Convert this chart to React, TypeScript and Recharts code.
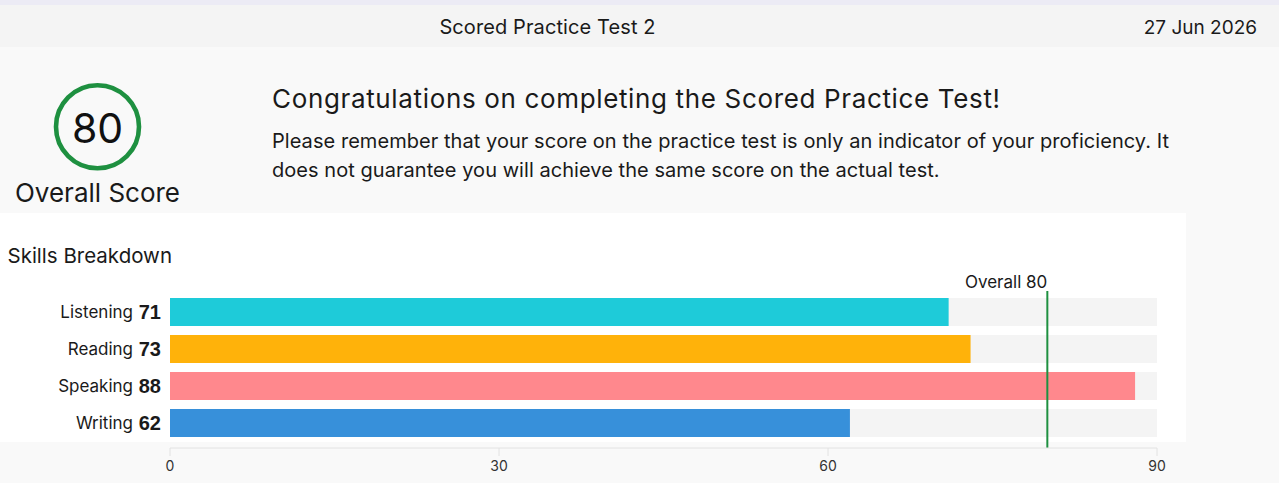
import { BarChart, Bar, XAxis, YAxis, ReferenceLine, Cell } from "recharts";

const skills = ["Listening", "Reading", "Speaking", "Writing"];
const scores = [71, 73, 88, 62];
const barColors = ["#1ecbd9", "#ffb20a", "#ff888d", "#3790da"];
const xTicks = [0, 30, 60, 90];
const overallScore = 80;

const data = skills.map((name, i) => ({ name, score: scores[i] }));

const FONT = "Inter, 'Noto Sans', sans-serif";
const TEXT = "#1a1a1a";

function SkillTick({ y, payload }: any) {
  const idx = skills.indexOf(payload.value);
  return (
    <g>
      <text x={133} y={y + 6.5} textAnchor="end" fontFamily={FONT} fontSize={17} fill={TEXT}>
        {payload.value}
      </text>
      <text
        x={161}
        y={y + 7}
        textAnchor="end"
        fontFamily="'Liberation Sans', Arial, sans-serif"
        fontWeight={700}
        fontSize={20}
        fill={TEXT}
      >
        {scores[idx]}
      </text>
    </g>
  );
}

function OverallLabel({ viewBox }: any) {
  return (
    <text x={viewBox.x} y={viewBox.y - 3.5} textAnchor="end" fontFamily={FONT} fontSize={17} fill={TEXT}>
      Overall {overallScore}
    </text>
  );
}

export default function App() {
  return (
    <div style={{ position: "absolute", left: 0, top: 0, width: 1279, height: 483, background: "#f9f9f9", overflow: "hidden" }}>
      <div style={{ position: "absolute", left: 0, top: 0, width: 1279, height: 5, background: "#ecebf5" }} />
      <div style={{ position: "absolute", left: 0, top: 5, width: 1279, height: 42, background: "#f4f4f4" }} />
      <div style={{ position: "absolute", left: 0, top: 213, width: 1186, height: 229, background: "#ffffff" }} />

      <svg width={1279} height={483} style={{ position: "absolute", left: 0, top: 0 }}>
        <text x={547.5} y={34} textAnchor="middle" fontFamily={FONT} fontSize={20} letterSpacing={0.1} fill={TEXT}>
          Scored Practice Test 2
        </text>
        <text x={1257} y={34} textAnchor="end" fontFamily={FONT} fontSize={19} fill={TEXT}>
          27 Jun 2026
        </text>

        <circle cx={97.5} cy={126.7} r={41.5} fill="none" stroke="#1e9040" strokeWidth={4.6} />
        <text x={97.5} y={143.3} textAnchor="middle" fontFamily={FONT} fontSize={41} fill="#111">
          {overallScore}
        </text>
        <text x={97.5} y={201.7} textAnchor="middle" fontFamily={FONT} fontSize={26} fill={TEXT}>
          Overall Score
        </text>

        <text x={272} y={108.3} fontFamily={FONT} fontSize={26} letterSpacing={0.65} fill={TEXT}>
          Congratulations on completing the Scored Practice Test!
        </text>
        <text x={272} y={148.3} fontFamily={FONT} fontSize={20} letterSpacing={0.05} fill={TEXT}>
          Please remember that your score on the practice test is only an indicator of your proficiency. It
        </text>
        <text x={272} y={176.5} fontFamily={FONT} fontSize={20} letterSpacing={0.05} fill={TEXT}>
          does not guarantee you will achieve the same score on the actual test.
        </text>

        <text x={7.5} y={263.3} fontFamily={FONT} fontSize={20.5} fill={TEXT}>
          Skills Breakdown
        </text>
      </svg>

      <div style={{ position: "absolute", left: 0, top: 213 }}>
        <BarChart
          width={1279}
          height={270}
          data={data}
          layout="vertical"
          margin={{ top: 78, right: 122, bottom: 5, left: 0 }}
        >
          <XAxis
            type="number"
            domain={[0, 90]}
            ticks={xTicks}
            height={30}
            tickSize={8}
            tickMargin={5}
            axisLine={{ stroke: "#e2e2e2" }}
            tickLine={{ stroke: "#e2e2e2" }}
            tick={{ fill: "#333", fontSize: 14, fontFamily: FONT }}
          />
          <YAxis
            type="category"
            dataKey="name"
            width={170}
            axisLine={false}
            tickLine={false}
            padding={{ top: 2, bottom: 7 }}
            tick={<SkillTick />}
          />
          <Bar dataKey="score" barSize={28} background={{ fill: "#f4f4f4" }} isAnimationActive={false}>
            {data.map((d, i) => (
              <Cell key={d.name} fill={barColors[i]} />
            ))}
          </Bar>
          <ReferenceLine x={overallScore} stroke="#1e9040" strokeWidth={2} label={<OverallLabel />} />
        </BarChart>
      </div>
    </div>
  );
}
